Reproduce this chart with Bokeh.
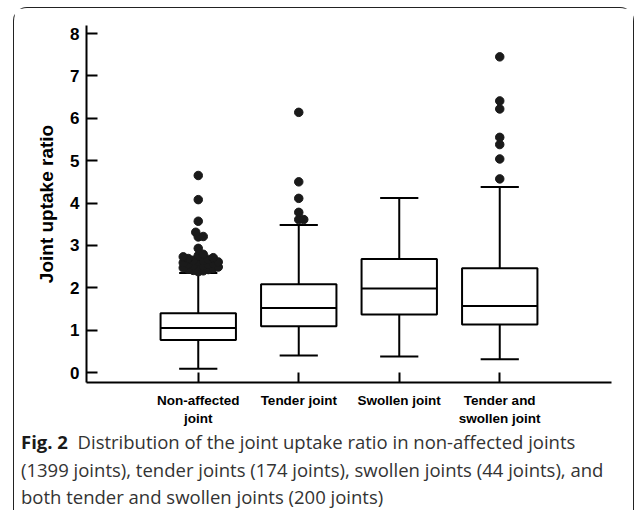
from bokeh.plotting import figure
from bokeh.models import ColumnDataSource, FactorRange, FixedTicker, Div
from bokeh.layouts import column
from bokeh.transform import dodge
from bokeh.embed import file_html
from bokeh.resources import INLINE

# ---------------- data ----------------
categories = ["Non-affected\njoint", "Tender joint", "Swollen joint",
              "Tender and\nswollen joint"]
q1 = [0.77, 1.09, 1.37, 1.13]
median = [1.05, 1.52, 1.98, 1.57]
q3 = [1.40, 2.08, 2.68, 2.46]
whisker_low = [0.09, 0.40, 0.38, 0.31]
whisker_high = [2.35, 3.48, 4.12, 4.38]

outliers_non_affected = [2.38, 2.40, 2.41, 2.43, 2.44, 2.46, 2.47, 2.49, 2.50,
                         2.52, 2.53, 2.55, 2.56, 2.58, 2.59, 2.61, 2.62, 2.64,
                         2.65, 2.67, 2.69, 2.71, 2.73, 2.76, 2.79,
                         2.93, 3.20, 3.21, 3.31, 3.57, 4.08, 4.65]
outliers_tender = [3.61, 3.61, 3.78, 4.11, 4.50, 6.14]
outliers_swollen = []
outliers_both = [4.57, 5.04, 5.38, 5.55, 6.22, 6.41, 7.45]
outlier_groups = [outliers_non_affected, outliers_tender, outliers_swollen,
                  outliers_both]

y_ticks = [0, 1, 2, 3, 4, 5, 6, 7, 8]
y_label = "Joint uptake ratio"
caption_bold = "Fig. 2"
caption_lines = [
    "Distribution of the joint uptake ratio in non-affected joints",
    "(1399 joints), tender joints (174 joints), swollen joints (44 joints), and",
    "both tender and swollen joints (200 joints)",
]

# ---------------- figure ----------------
W, H = 619, 420
p = figure(width=W, height=H, output_backend="svg", toolbar_location=None,
           x_range=FactorRange(factors=categories, range_padding=0.612,
                               range_padding_units="absolute"),
           y_range=(-0.236, 8.19),
           min_border_left=72, min_border_right=22,
           min_border_top=17, min_border_bottom=46)
p.outline_line_color = None
p.xgrid.visible = False
p.ygrid.visible = False
p.background_fill_color = "white"
p.border_fill_color = "white"

# y axis
p.yaxis.ticker = FixedTicker(ticks=y_ticks)
p.yaxis.axis_label = y_label
p.yaxis.axis_label_text_font = "Liberation Sans"
p.yaxis.axis_label_text_font_style = "bold"
p.yaxis.axis_label_text_font_size = "19px"
p.yaxis.axis_label_text_color = "black"
p.yaxis.axis_label_standoff = 10
p.yaxis.major_label_text_font = "Liberation Sans"
p.yaxis.major_label_text_font_style = "bold"
p.yaxis.major_label_text_font_size = "17px"
p.yaxis.major_label_text_color = "black"
p.yaxis.major_label_standoff = 7
p.yaxis.minor_tick_line_color = None

# x axis
p.xaxis.major_label_text_font = "Liberation Sans"
p.xaxis.major_label_text_font_style = "bold"
p.xaxis.major_label_text_font_size = "13.5px"
p.xaxis.major_label_text_color = "black"
p.xaxis.major_label_standoff = 10
p.xaxis.major_label_text_line_height = 1.2

for ax in (p.xaxis, p.yaxis):
    ax.axis_line_width = 2
    ax.axis_line_color = "black"
    ax.major_tick_line_width = 2
    ax.major_tick_line_color = "black"
    ax.major_tick_out = 0
p.yaxis.major_tick_in = 11
p.xaxis.major_tick_in = 10

# ---------------- boxes ----------------
src = ColumnDataSource(dict(cat=categories, q1=q1, med=median, q3=q3,
                            lo=whisker_low, hi=whisker_high))
LW = 2
p.segment(x0="cat", x1="cat", y0="lo", y1="hi", source=src,
          line_color="black", line_width=LW)
p.vbar(x="cat", width=0.75, bottom="q1", top="q3", source=src,
       fill_color="white", line_color="black", line_width=LW)
p.segment(x0=dodge("cat", -0.375, range=p.x_range),
          x1=dodge("cat", 0.375, range=p.x_range),
          y0="med", y1="med", source=src, line_color="black", line_width=LW)
for col in ("lo", "hi"):
    p.segment(x0=dodge("cat", -0.19, range=p.x_range),
              x1=dodge("cat", 0.19, range=p.x_range),
              y0=col, y1=col, source=src, line_color="black", line_width=LW)

# ---------------- outliers (deterministic swarm layout) ----------------
PX_PER_Y = 357 / (8.19 + 0.236)
PX_PER_X = 100.5
MIN_D = 5.0
STEP = 2.5
ox, oy = [], []
for cat, vals in zip(categories, outlier_groups):
    placed = []
    for v in sorted(vals):
        ypx = v * PX_PER_Y
        k = 0
        while True:
            n = (k + 1) // 2
            off = n * STEP * (1 if k % 2 == 1 else -1) if k else 0.0
            if all((off - a) ** 2 + (ypx - b) ** 2 >= MIN_D ** 2
                   for a, b in placed):
                break
            k += 1
        placed.append((off, ypx))
        ox.append((cat, off / PX_PER_X))
        oy.append(v)
p.scatter(x=ox, y=oy, size=8.5, fill_color="#1a1a1a", line_color="#1a1a1a")

# ---------------- caption ----------------
cap_html = (
    '<div style="font-family:\'Open Sans\',sans-serif;font-size:18.5px;'
    'line-height:27.5px;color:#333333;padding-left:7px;white-space:nowrap">'
    '<span style="font-weight:bold;color:#1a1a1a">' + caption_bold + '</span>'
    '&nbsp;&nbsp;' + caption_lines[0] + '<br>' + caption_lines[1] + '<br>'
    + caption_lines[2] + '</div>'
)
cap = Div(text=cap_html, width=W, height=82, margin=(0, 0, 0, 0))

layout = column(p, cap, spacing=0, styles={
    "margin-left": "13px", "margin-top": "7px",
    "border-top": "1.5px solid #222", "border-left": "1.5px solid #222",
    "border-right": "1.5px solid #222",
    "border-radius": "14px 14px 0 0", "background": "white"})

open("out.html", "w").write(file_html(layout, INLINE))
